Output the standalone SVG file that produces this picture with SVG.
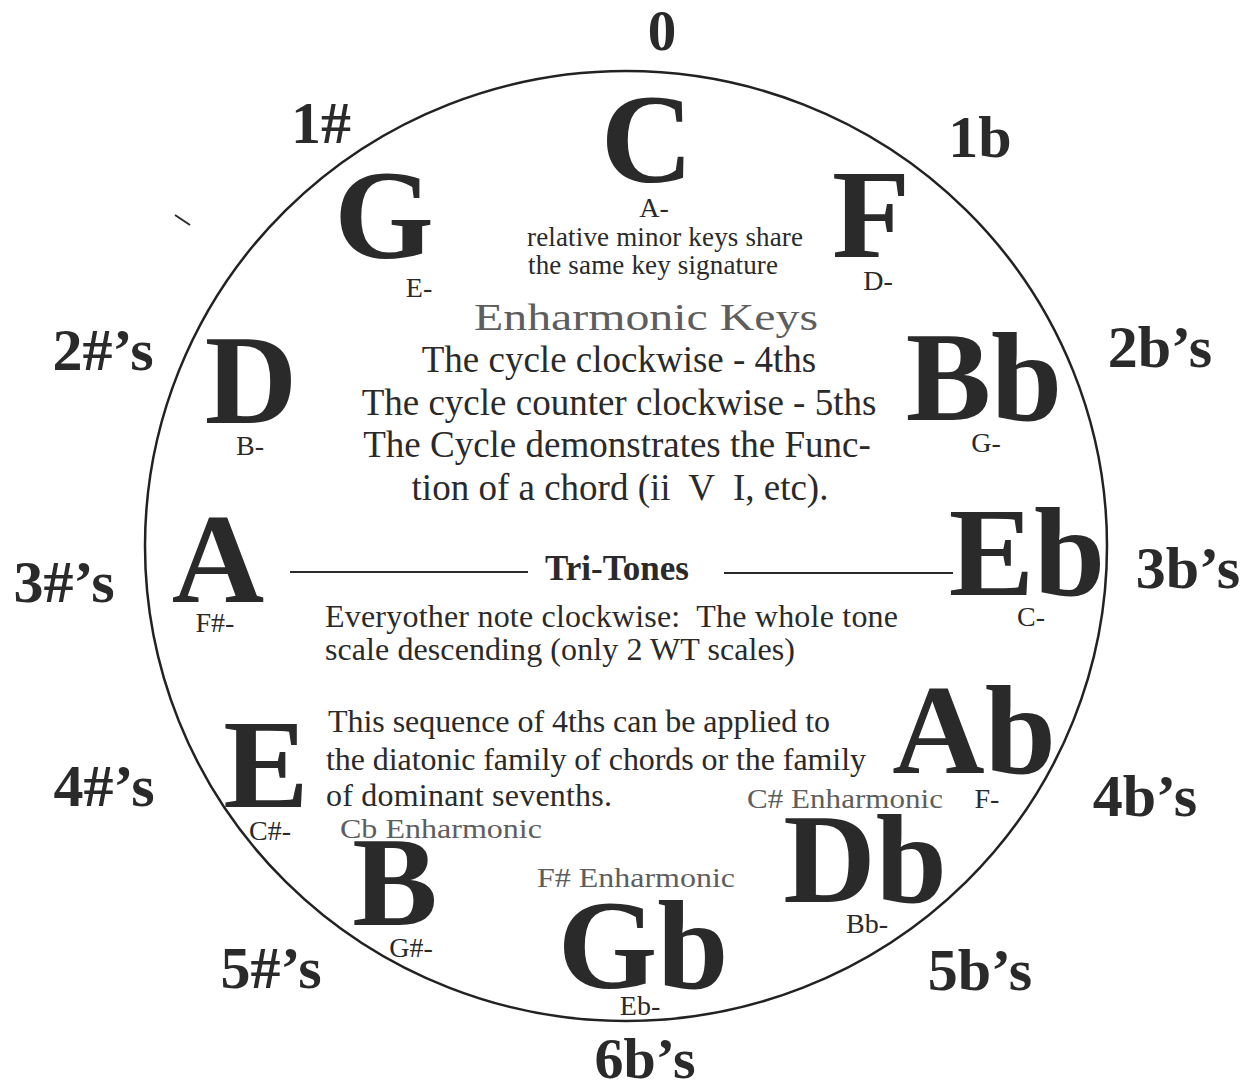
<svg xmlns="http://www.w3.org/2000/svg" width="1256" height="1089" viewBox="0 0 1256 1089">
<style>
text{font-family:"Liberation Serif","Times New Roman",serif;fill:#2a2a2a}
.key{font-size:128px;font-weight:bold;text-anchor:middle}
.sig{font-size:60px;font-weight:bold;text-anchor:middle}
.min{font-size:28px;text-anchor:middle}
.body{font-size:37px;text-anchor:middle}
.note{font-size:32px;white-space:pre}
.small{font-size:27px}
.enh{font-size:28px;fill:#5e5e5e}
.big-enh{font-size:38px;fill:#5e5e5e}
.tri{font-size:35px;font-weight:bold}
.rule{stroke:#2a2a2a;stroke-width:2;fill:none}
</style>
<rect width="1256" height="1089" fill="#ffffff"/>
<g id="circle">
<ellipse cx="626" cy="546" rx="481" ry="475" fill="none" stroke="#222" stroke-width="2.5"/>
</g>
<g id="signatures">
<text class="sig" x="662" y="50" style="font-size:57px">0</text>
<text class="sig" x="321" y="143">1#</text>
<text class="sig" x="980" y="157">1b</text>
<text class="sig" x="103" y="370">2#’s</text>
<text class="sig" x="1160" y="367">2b’s</text>
<text class="sig" x="64" y="602">3#’s</text>
<text class="sig" x="1188" y="588">3b’s</text>
<text class="sig" x="104" y="806">4#’s</text>
<text class="sig" x="1145" y="816">4b’s</text>
<text class="sig" x="271" y="988">5#’s</text>
<text class="sig" x="980" y="990">5b’s</text>
<text class="sig" x="645" y="1078" style="font-size:58px">6b’s</text>
</g>
<g id="key-C"><text class="key" x="647" y="182">C</text><text class="min" x="654" y="217">A-</text></g>
<g id="key-G"><text class="key" x="384" y="258">G</text><text class="min" x="419" y="297">E-</text></g>
<g id="key-F"><text class="key" x="871" y="257">F</text><text class="min" x="878" y="290">D-</text></g>
<g id="key-D"><text class="key" x="251" y="423">D</text><text class="min" x="250" y="455">B-</text></g>
<g id="key-Bb"><text class="key" x="984" y="420">Bb</text><text class="min" x="986" y="452">G-</text></g>
<g id="key-A"><text class="key" x="218" y="602">A</text><text class="min" x="215" y="632">F#-</text></g>
<g id="key-Eb"><text class="key" x="1027" y="595">Eb</text><text class="min" x="1031" y="626">C-</text></g>
<g id="key-E"><text class="key" x="266" y="807">E</text><text class="min" x="270" y="840">C#-</text></g>
<g id="key-Ab"><text class="key" x="974" y="773">Ab</text><text class="min" x="987" y="808">F-</text></g>
<g id="key-B"><text class="key" x="395" y="925">B</text><text class="min" x="411" y="957">G#-</text></g>
<g id="key-Db"><text class="key" x="865" y="902">Db</text><text class="min" x="867" y="933">Bb-</text></g>
<g id="key-Gb"><text class="key" x="643" y="988">Gb</text><text class="min" x="640" y="1015">Eb-</text></g>
<g id="center-text">
<text class="small" x="527" y="246" textLength="276">relative minor keys share</text>
<text class="small" x="528" y="274" textLength="250">the same key signature</text>
<text class="big-enh" x="474" y="330" textLength="344" lengthAdjust="spacingAndGlyphs">Enharmonic Keys</text>
<text class="body" x="619" y="372">The cycle clockwise - 4ths</text>
<text class="body" x="619" y="415">The cycle counter clockwise - 5ths</text>
<text class="body" x="617" y="457">The Cycle demonstrates the Func-</text>
<text class="body" x="620" y="500" style="white-space:pre">tion of a chord (ii  V  I, etc).</text>
<text class="tri" x="545" y="580">Tri-Tones</text>
<text class="note" x="325" y="627" textLength="573">Everyother note clockwise:  The whole tone</text>
<text class="note" x="325" y="660" textLength="470">scale descending (only 2 WT scales)</text>
<text class="note" x="328" y="732" textLength="502">This sequence of 4ths can be applied to</text>
<text class="note" x="326" y="770" textLength="540">the diatonic family of chords or the family</text>
<text class="note" x="326" y="806" textLength="286">of dominant sevenths.</text>
<text class="enh" x="747" y="808" textLength="196" lengthAdjust="spacingAndGlyphs">C# Enharmonic</text>
<text class="enh" x="340" y="838" textLength="202" lengthAdjust="spacingAndGlyphs">Cb Enharmonic</text>
<text class="enh" x="537" y="887" textLength="198" lengthAdjust="spacingAndGlyphs">F# Enharmonic</text>
</g>
<g id="connectors">
<line class="rule" x1="290" y1="572" x2="528" y2="572"/>
<line class="rule" x1="724" y1="573" x2="953" y2="573"/>
<line class="rule" x1="175" y1="215" x2="190" y2="225" stroke-width="1.5"/>
</g>
</svg>
